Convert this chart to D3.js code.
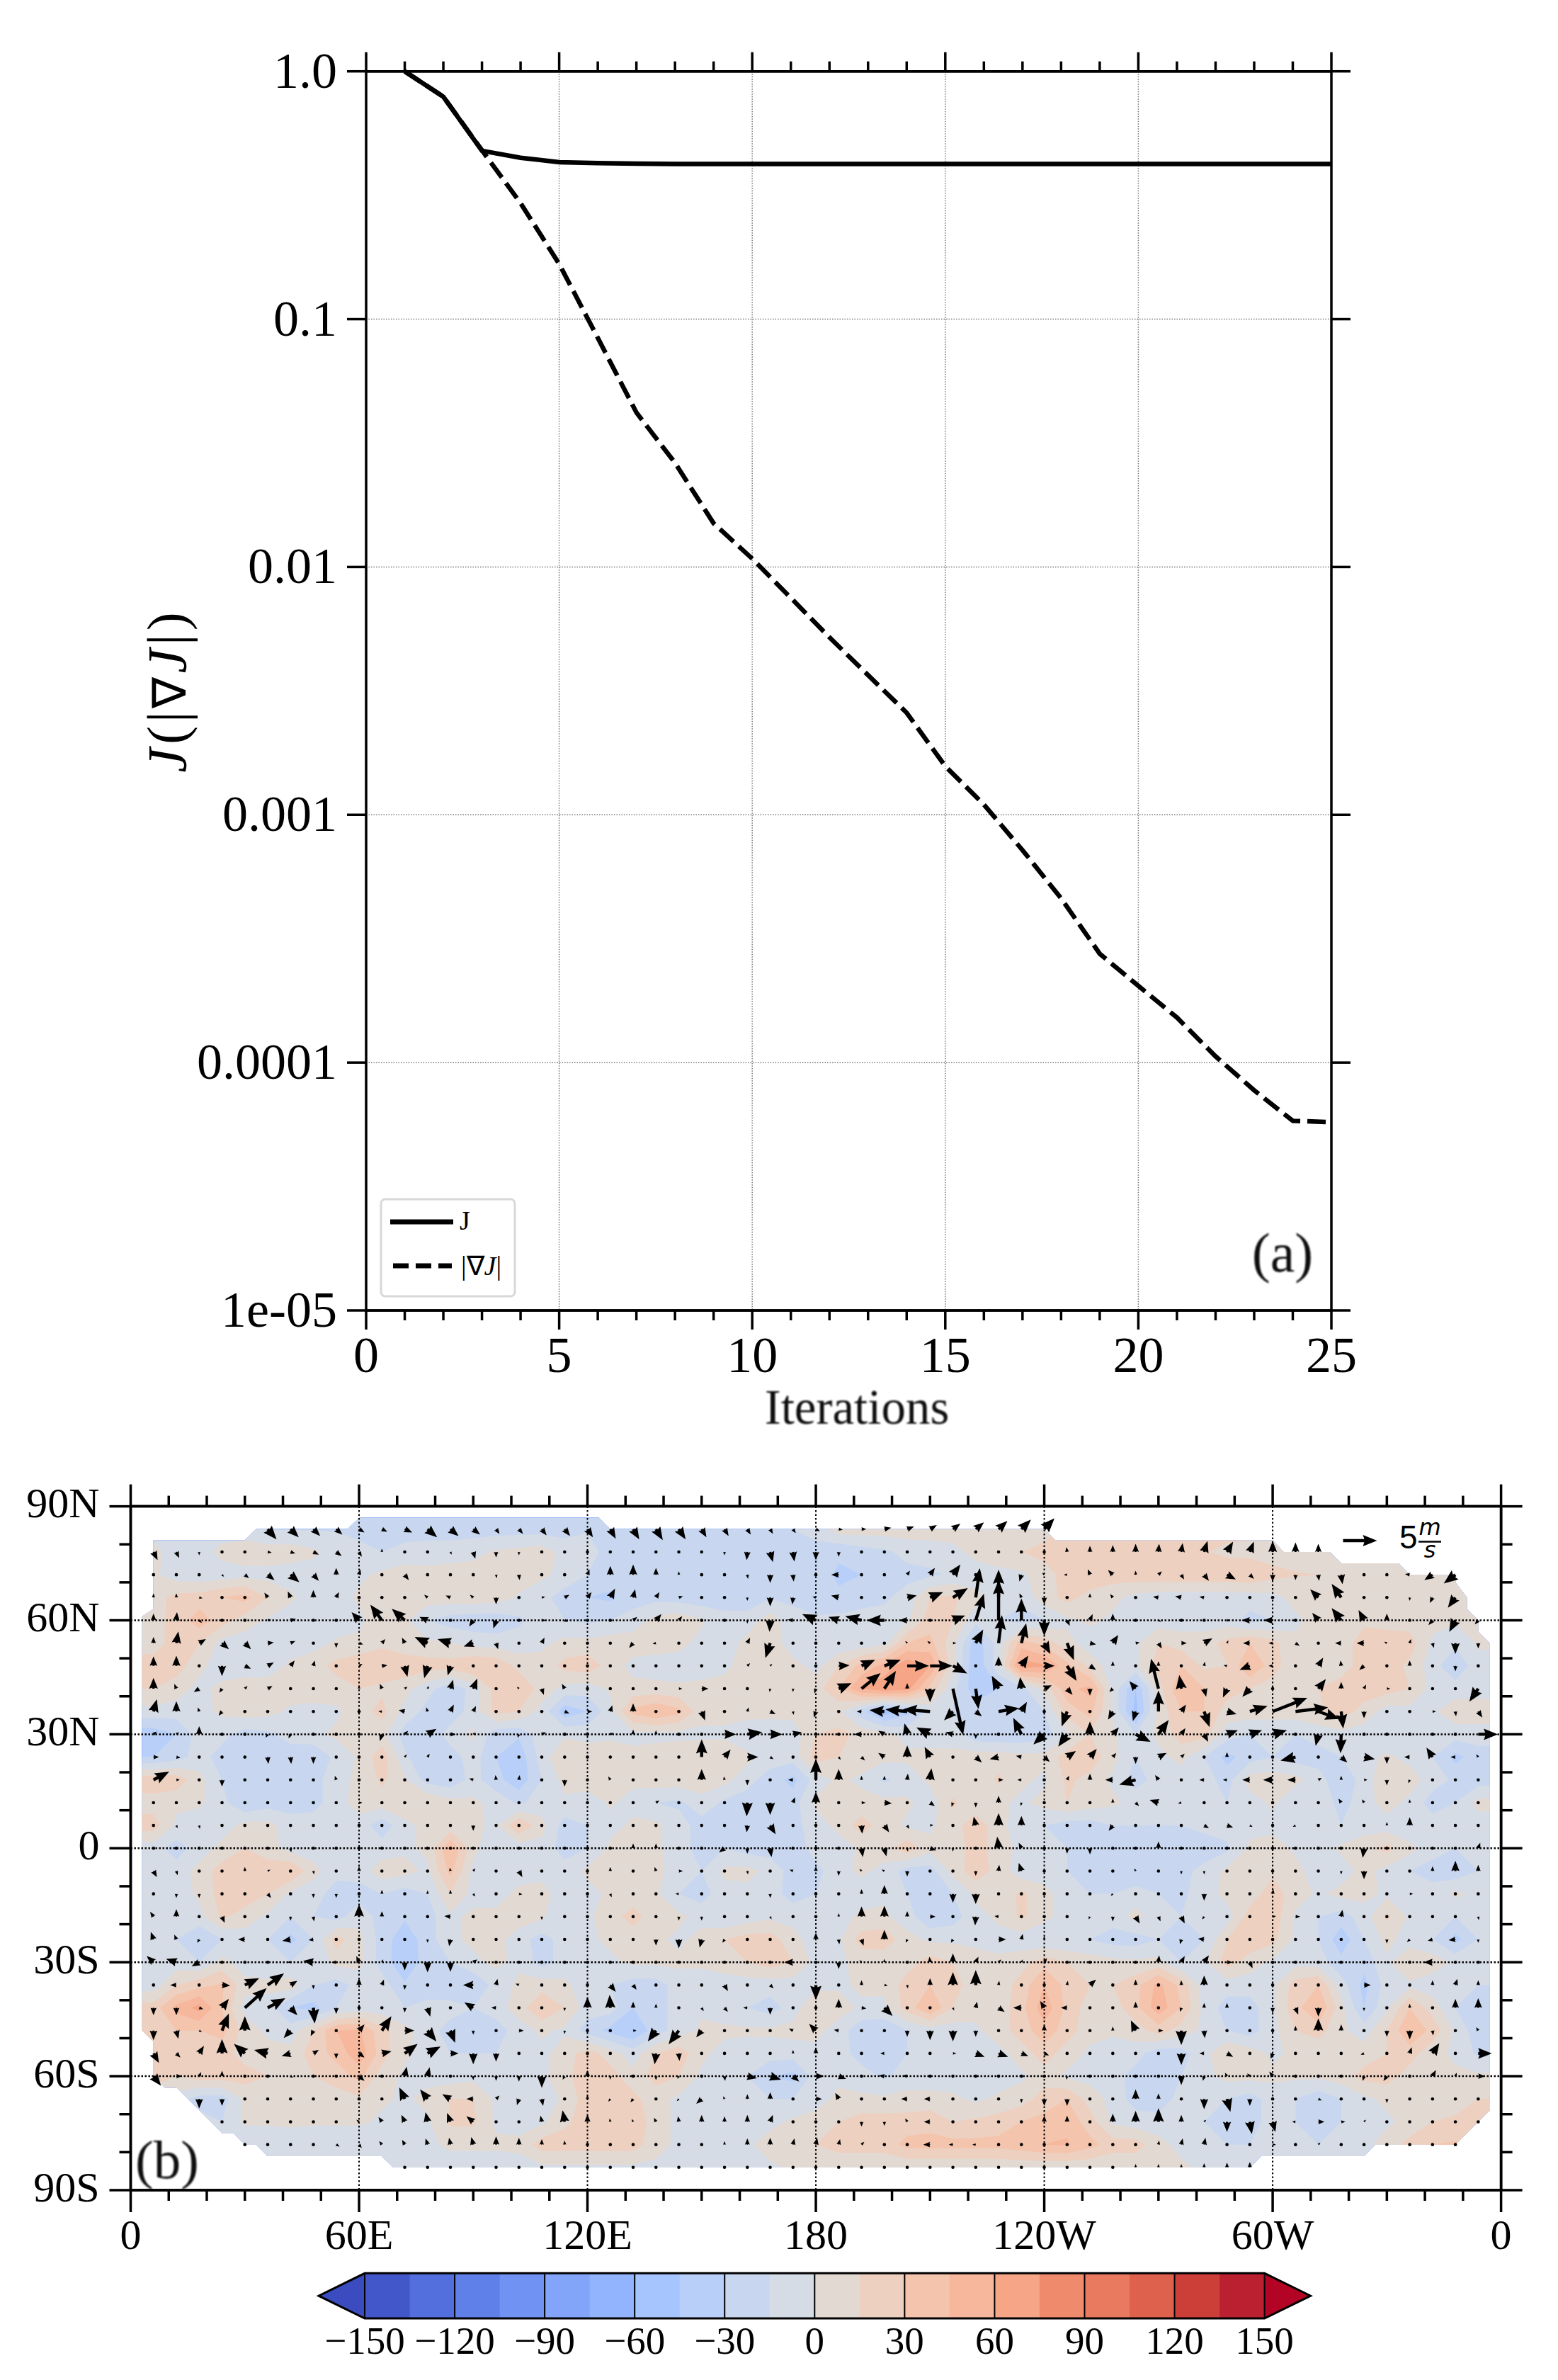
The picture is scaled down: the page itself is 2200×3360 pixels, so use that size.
<!DOCTYPE html>
<html>
<head>
<meta charset="utf-8">
<script src="https://cdn.jsdelivr.net/npm/d3@7"></script>
<style>
	body { margin: 0; background: #fff; }
	text { font-family: 'Liberation Serif', serif; fill: #000; }
</style>
</head>
<body>
<div id="chart"></div>
<script>
// panel (a): convergence curves
const iterations = d3.range(1, 26)
const costValues = [1, .79, .478, .448, .43, .426, .424, .423, .423, .423, .423, .423, .423, .423, .423, .423, .423, .423, .423, .423, .423, .423, .423, .423, .423]
const gradValues = [1, .79, .48, .294, .167, .084, .042, .0263, .015, .0108, .0075, .0052, .00366, .00258, .00157, .0011, .00072, .00046, .000275, .000204, .000152, .000106, .0000773, .0000582, .0000575]
const decadeTicks = [1, .1, .01, .001, .0001, .00001]
const decadeLabels = ['1.0', '0.1', '0.01', '0.001', '0.0001', '1e-05']

// panel (b): 6 degree grid
const lons = d3.range(6, 355, 6)
const lats = d3.range(84, -85, -6)

// scalar field, one row per latitude (59 values, 6E..354E)
const field84 = [-8,-8,-8,-8,-8,-16,-16,-16,-16,-22, -22,-22,-22,-22,-22,-22,-22,-22,-22,-16, -16,-16,-15,-15,-15,-15,-15,-15,-15,-8, 8,8,8,8,8,8,8,8,8,8, 20,20,20,20,20,20,20,20,20,20, 8,8,8,8,8,8,8,8,8]
const field78 = [5,-8,-8,5,8,8,8,3,-8,-8, -15,-10,-8,-8,-5,2,5,8,-5,-10, -20,-18,-18,-22,-25,-25,-22,-18,-20,-22, -28,-22,-18,-10,-8,-5,5,10,15,20, 22,22,20,18,18,18,16,12,10,8, 8,5,5,5,5,5,5,5,5]
const field72 = [3,-8,-10,-8,-5,-5,-8,-8,-8,-3, 3,8,5,8,8,8,8,3,-5,-15, -22,-25,-25,-22,-30,-30,-20,-15,-20,-25, -32,-30,-22,-20,-18,-12,-8,-5,-3,8, 22,25,22,25,25,25,25,25,28,20, 16,15,8,5,5,5,5,5,5]
const field66 = [8,20,22,30,35,15,3,-8,-8,3, 5,5,8,8,10,8,-2,-10,-22,-30, -33,-22,-20,-22,-25,-25,-25,-16,-18,-25, -28,-22,-18,-8,15,18,5,-8,-10,8, 20,10,4,-5,-8,-8,-8,-8,-8,-5, 5,8,8,5,5,5,5,5,5]
const field60 = [10,20,38,22,8,-2,-8,-8,-8,-5, 12,3,-15,-22,-25,-25,-18,-8,-15,-18, -15,-8,5,10,2,-8,-8,8,-10,-12, -10,-8,-8,-3,22,15,-10,-15,-22,-15, -3,3,-3,-8,-8,-8,-8,-8,-20,-15, -3,5,8,12,10,8,5,2,5]
const field54 = [8,22,15,-5,-8,-8,-8,-5,2,5, 12,5,3,0,-5,-8,-8,-3,5,5, 8,8,8,5,-5,-8,5,8,-8,-8, -12,-10,-5,30,35,5,-40,-8,38,25, 5,-8,-10,-3,15,8,8,20,30,20, 3,3,8,22,22,22,-3,-12,2]
const field48 = [22,22,5,-10,-8,-8,3,8,20,25, 25,25,22,22,30,28,10,5,20,25, 8,-5,-8,-8,-8,-5,10,10,5,-5, 15,35,50,72,60,5,-45,-5,68,62, 35,10,-8,-3,22,30,12,15,45,22, 3,3,8,22,22,12,-8,-28,-5]
const field42 = [15,8,-5,5,8,8,8,8,8,15, 12,5,-10,-25,-10,22,30,8,-5,-8, 2,5,5,3,5,8,8,10,5,8, 30,60,72,65,25,-10,-40,-30,-20,5, 40,50,-5,-45,8,45,30,22,15,8, 5,15,22,22,22,15,-5,-8,-8]
const field36 = [-5,-8,-5,3,8,5,-3,-5,-3,8, 20,-5,-20,-25,-8,20,15,-5,-40,-30, -5,35,45,35,5,5,8,5,5,5, 3,-25,-55,-35,-10,-15,-22,-22,-28,-15, 22,35,-3,-50,5,30,30,8,8,8, 8,12,22,10,-8,-5,-3,10,10]
const field30 = [-40,-30,-8,-10,-22,-18,-8,-3,3,5, 5,-22,-28,-8,3,-25,-28,-5,-3,-5, -3,-5,-5,-5,-3,-3,-15,-10,-8,15, 20,10,5,-5,-8,-8,-25,-28,-28,-22, -3,15,3,-15,5,22,22,-8,-15,-15, -15,-8,-5,-8,-15,-10,-8,-8,-8]
const field24 = [-30,-22,-8,-22,-28,-22,-25,-30,-10,2, 25,-12,-30,-22,-8,-30,-40,-8,15,8, 8,5,8,12,10,10,5,-8,-8,22, 15,8,5,3,5,5,8,8,5,5, 22,25,5,-15,-5,5,-15,-35,-22,-15, -22,-22,-15,-5,3,-5,-15,-35,-22]
const field18 = [25,25,5,-15,-30,-30,-22,-22,-5,3, 18,2,-22,-25,-10,-25,-40,-15,5,8, 5,3,8,8,8,5,-10,-22,-35,-8, 3,-3,-18,-8,3,5,3,18,3,-3, 18,10,-3,-22,-8,-8,-8,-22,8,8, 5,-8,-28,-8,12,8,-8,-18,-22]
const field12 = [8,3,3,-10,-30,-22,-22,-22,-5,5, 8,8,15,5,3,-5,-18,-8,-3,-8, 2,-5,-15,-18,-5,-18,-22,-22,-22,3, 5,5,5,3,-8,18,3,3,-3,5, 15,8,3,-5,-8,-8,-8,-15,-8,3, -15,-5,-20,-8,8,-5,-22,-15,5]
const field06 = [22,-3,-12,-8,5,5,-8,-5,-8,-5, -25,-3,3,5,3,-3,30,5,-22,-15, -5,3,3,-8,-22,-28,-22,-15,-20,-8, 5,22,8,-3,-3,8,25,5,-8,-15, -22,-22,-15,-15,-15,-15,-8,-8,-5,-5, -5,-8,-15,-8,-8,-15,-8,-8,-8]
const field00 = [-8,-22,-8,5,15,5,-5,-8,-8,-5, -8,-3,3,45,5,-15,-8,-5,-22,-15, 3,3,3,-8,-22,-15,-22,-22,-25,-8, -8,3,8,25,5,3,25,5,-3,-8, -15,-22,-22,-18,-18,-22,-28,-18,3,8, -3,-8,3,10,20,5,-8,-15,-15]
const fieldS06 = [-15,-8,5,22,22,25,30,5,-10,-8, 8,5,-3,35,-5,-8,-8,-5,-8,3, 3,3,3,-5,-15,3,5,-5,-22,-20, -5,3,-5,-22,-22,5,25,8,-8,-8, -15,-22,-22,-28,-22,-22,-8,3,5,12, 5,-8,-8,5,-5,-15,-22,-25,-15]
const fieldS12 = [-15,-8,3,22,25,15,-3,-8,-22,-22, -15,-22,-15,15,-5,-8,5,5,-8,-5, 3,5,3,-15,-22,-5,-5,-8,-22,-15, -8,-8,-3,-15,-28,-15,3,5,18,5, -8,-15,-15,-8,-15,-18,-8,5,8,22, 8,-3,5,5,-3,-5,-8,3,-3]
const fieldS18 = [-15,-15,-5,18,8,-3,-15,-15,-22,-5, -22,-28,-22,-3,3,5,8,3,-15,-3, 8,22,5,3,-5,-15,-8,-3,-5,-15, -5,3,3,-8,-28,-22,-5,3,18,5, -8,-15,-8,5,-8,-15,-15,-8,22,25, -3,-15,-22,-8,18,-3,-8,-15,-8]
const fieldS24 = [-15,-15,-30,-15,-8,-15,-35,-15,22,5, -22,-40,-22,-3,3,5,-8,-22,-8,-3, 3,5,3,-3,5,15,22,22,5,-8, -3,22,25,5,-3,-3,-5,-5,-8,-15, -15,-15,-22,-22,-15,-30,-15,15,25,20, -3,-15,-40,-15,5,-8,-15,-35,-15]
const fieldS30 = [-15,-8,-15,5,-8,-15,-15,-15,5,5, -22,-42,-22,-15,-3,3,-3,-22,-8,-5, -3,3,3,3,3,8,15,22,15,-5, -3,5,3,8,22,15,8,3,8,25, 15,8,5,3,5,-15,-3,22,8,-3, -5,-8,-25,-25,-3,15,8,-3,-8]
const fieldS36 = [-8,15,25,32,5,5,8,-15,-22,-10, -8,-28,-28,-30,-30,-8,3,8,3,-8, -15,-22,-22,-8,-8,-8,-8,-8,-8,-5, -3,3,3,22,30,22,5,5,22,45, 25,15,15,25,50,25,-8,-8,-8,-3, 22,30,-8,-35,-8,-3,-8,-15,-15]
const fieldS42 = [22,50,65,30,-5,-8,-30,-35,-15,-8, -8,-15,-8,-8,-15,-8,8,30,15,-8, -8,-30,-22,-8,-3,-8,-15,-22,-8,15, 8,-3,-3,22,45,15,5,5,25,55, 25,8,8,25,55,30,-5,-22,-22,-3, 25,45,5,-30,-3,30,8,-15,-22]
const fieldS48 = [22,30,30,35,8,-3,-8,15,45,48, 20,5,-8,-22,-22,-22,-8,3,-3,-22, -35,-45,-22,-8,3,3,3,3,5,5, -8,-25,-28,-15,-8,-8,-3,8,22,40, 22,5,3,8,22,8,-3,-15,-22,-5, 15,22,3,-8,15,45,25,-3,-25]
const fieldS54 = [15,15,15,22,8,5,5,22,35,55, 22,3,-8,-15,-15,-15,-8,-5,8,22, 8,-8,15,25,3,-5,-8,-8,-8,-5, -8,-22,-28,-15,-8,-8,-8,-5,8,22, 8,-3,-8,-8,-25,-22,-5,15,8,-3, 3,3,3,8,15,22,5,-3,-18]
const fieldS60 = [22,15,22,22,22,15,8,15,22,35, 8,-3,-5,-8,-5,-3,-3,-3,8,30, 22,5,22,15,-3,-8,-15,-30,-35,-8, -3,-8,-18,-8,-8,-8,-12,-8,-3,8, -3,-5,-8,-22,-28,-15,-5,5,5,3, 3,3,8,20,22,8,3,3,3]
const fieldS66 = [5,-8,-22,-22,3,8,8,8,8,12, 3,-3,5,15,15,-3,-8,-15,5,22, 25,20,5,-3,-5,-8,-8,-15,-15,-5, 3,3,3,5,5,3,-3,3,8,22, 30,8,-5,-22,-25,-8,-8,-15,-22,-8, -15,-25,-15,-3,3,3,3,8,15]
const fieldS72 = [3,3,-8,-15,3,3,5,3,3,3, -3,-8,-3,18,18,-3,-8,-3,12,22, 22,30,5,-3,-5,-5,-5,-5,3,5, 15,22,22,22,25,15,18,22,30,35, 40,22,-3,-8,-8,-8,-15,-18,-18,-12, -15,-30,-15,-8,-3,5,15,18,22]
const fieldS78 = [-8,-8,-8,-15,-15,-15,-15,-15,-15,-15, -8,-5,-3,3,3,3,5,22,22,22, 22,22,5,-3,-3,-3,-3,8,8,15, 22,22,22,35,35,35,35,35,40,45, 47,35,22,22,5,-5,-3,-15,-15,-15, -15,-15,-10,-5,8,20,30,32,32]
const fieldS84 = [-15,-15,-15,-15,-15,-15,-15,-15,-15,-15, -15,-15,-12,-8,-8,-8,-8,-3,-3,-3, -3,-3,-3,-3,-3,-3,-3,-3,3,3, 3,3,3,3,3,3,3,3,3,3, 3,3,3,3,3,3,-3,-15,-15,-15, -15,-15,-15,-15,-15,-15,-15,-15,-15]
const fieldRows = [field84, field78, field72, field66, field60, field54, field48, field42, field36, field30, field24, field18, field12, field06, field00, fieldS06, fieldS12, fieldS18, fieldS24, fieldS30, fieldS36, fieldS42, fieldS48, fieldS54, fieldS60, fieldS66, fieldS72, fieldS78, fieldS84]

// outline of the shaded area as [lon, lat]
const fieldOutline = [[6,81],[30,81],[33,84],[57,84],[60,87],[123,87],[126,84],[240,84],[243,81],[300,81],[303,78],[315,78],[318,75],[333,75],[336,72],[348,72],[348,70],[351,66],[351,63],[354,60],[354,57],[357,54],[357,-69],[348,-78],[327,-78],[324,-81],[297,-81],[294,-84],[69,-84],[66,-81],[36,-81],[33,-78],[30,-78],[27,-75],[24,-75],[12,-63],[9,-63],[6,-60],[6,-51],[3,-48],[3,61],[6,63]]

// first and last grid column with a wind vector, per latitude row
const windFirst = [5,0,0,0,0,0,0,0,0,0,0,0,0,0,0,0,0,0,0,0,0,0,0,0,0,2,3,4,11]
const windLast = [39,51,57,57,58,58,58,58,58,58,58,58,58,58,58,58,58,58,58,58,58,58,58,58,58,58,58,57,48]

// wind vectors in m/s as [column, u, v]; grid points not listed are calm
const wind84 = [[5,1.3,-1.5],[6,1.2,-1.2],[7,1,-1],[8,.9,-.8],[9,.8,-.5],[10,.8,-.4],[11,1.1,-.5],[12,1.4,-1.2],[13,1.2,-1],[14,1,-.8],[15,.5,-.7],[16,.6,-.7],[17,.7,-.9],[18,.8,-1],[19,.8,-1.2],[20,.8,-1.4],[21,.9,-1.5],[22,1,-1.6],[23,1,-1.5],[24,.7,-1.2],[25,.6,-1],[26,.5,-.8],[27,.4,-.7],[28,.4,-.6],[29,.6,-.3],[30,.6,-.1],[31,.7,0],[32,1,.2],[33,1,.4],[34,1,.6],[35,1.1,.8],[36,1.2,1],[37,1.3,1.2],[38,1.4,1.4],[39,1.5,1.6]]
const wind78 = [[0,.6,-1.2],[1,.4,-.9],[2,0,-.5],[3,.3,.2],[4,.3,0],[5,.6,-.1],[6,.7,-.2],[7,.8,-.4],[8,.8,-.6],[9,.4,-.7],[10,0,.5],[13,.2,-.4],[14,.3,-1],[15,0,-.8],[16,0,-.5],[25,0,-.5],[26,-.1,-1.2],[27,.4,-1.5],[28,.2,-1.4],[29,0,-1.2],[30,0,-.7],[31,.1,-.4],[32,.2,-.3],[40,-.1,.7],[41,0,.9],[42,0,1],[43,0,1.2],[44,.1,1.2],[45,.2,1.3],[46,.5,1.6],[47,.9,1.5],[48,.6,1.5],[49,0,1.6],[50,0,1.4],[51,0,1.2]]
const wind72 = [[3,.3,-.3],[4,.6,-.5],[5,1,-.8],[6,1.3,-1.1],[7,.8,-.9],[8,0,1],[9,.2,.8],[10,.3,-.2],[11,.6,-.8],[12,.4,-.1],[14,0,-.4],[15,.1,-.5],[16,.1,-.8],[17,.1,-.3],[19,.3,.8],[20,0,1.3],[21,0,1.5],[22,0,1],[23,0,.5],[26,.1,-.6],[27,0,-1.2],[28,.1,-1],[30,-1.1,0],[33,.4,.6],[34,.7,1],[35,1.1,1.5],[38,-.3,-1],[39,-.3,.3],[40,-.5,0],[41,-.3,.8],[42,-.7,.7],[43,0,.6],[44,.5,.5],[45,.4,-.7],[46,.7,-.9],[47,1.3,-.7],[48,.6,-.6],[49,0,-1],[50,0,-.8],[51,.1,-.9],[52,.2,-1.4],[53,0,-.4],[54,.1,-.3],[55,-.7,.1],[56,-1.2,-.8],[57,-1.7,-1.3]]
const wind66 = [[0,0,.6],[1,0,.6],[2,.5,-.1],[4,.3,-.2],[5,-.5,.7],[6,-.4,.9],[7,0,1.1],[8,.4,.8],[9,0,.4],[10,-.1,.3],[12,-.5,.4],[13,-.7,.3],[14,-.5,.4],[15,0,-1],[17,.5,.1],[18,.7,.4],[19,.6,.8],[20,.7,1.3],[21,.3,1.2],[22,.5,.8],[23,.6,.2],[24,.3,-.2],[26,0,-.5],[27,0,-1.3],[28,-.1,-1],[29,-.5,.1],[30,-1.1,.3],[33,1.4,.3],[34,1.9,.8],[35,2.2,1.4],[36,.6,4.3],[37,0,4.1],[38,-.3,.6],[39,0,-1],[41,0,.6],[42,-.4,.5],[43,-.4,.1],[44,-.8,.1],[45,-.9,.2],[46,-.7,.1],[51,-1.2,1.2],[52,-1.4,2],[53,0,.3],[54,-.1,.3],[55,0,-.5],[56,-.4,-.8],[57,-1.1,-1.5]]
const wind60 = [[0,0,1],[1,.1,1.2],[2,.4,-.4],[5,.5,.1],[6,.8,.2],[9,-1.1,1.2],[10,-1.7,2.3],[11,-1.9,1.7],[12,-1.2,.5],[14,-.6,-.9],[15,-.4,-1.2],[17,.6,0],[18,.5,-.2],[20,.4,-.1],[21,.6,.5],[22,.8,.9],[23,.5,.6],[26,0,-.5],[27,-.1,-1.7],[28,-.8,.1],[29,-2,.9],[30,-1.5,.5],[31,-2.4,.6],[32,-2.6,0],[33,-1.2,0],[35,1.8,.7],[36,1.2,3.9],[37,0,5.9],[38,0,3.2],[39,0,-2.3],[40,.4,-.8],[41,.4,.9],[42,0,1],[43,.3,.1],[44,.4,-.2],[45,.3,0],[46,-.2,.3],[47,.5,0],[48,-1.2,0],[49,-1.3,0],[51,-.9,1.1],[52,-1.4,1.8],[53,-.8,1.5],[54,0,1],[56,-.6,-.7],[57,-.9,-1.7],[58,-.5,-.6]]
const wind54 = [[0,0,.9],[1,.3,1.7],[2,1,.6],[3,1,-.9],[4,.9,-.9],[5,.9,.1],[6,.7,.3],[8,0,-.7],[9,.6,-.2],[10,.5,.6],[11,-.4,.8],[12,-1.9,.9],[13,-1.9,.6],[14,-1.4,-.5],[15,.3,-.9],[17,.4,.8],[18,.2,.3],[20,-.2,.1],[21,-.6,-.7],[22,-.5,-.1],[23,.1,.2],[24,-.1,.2],[25,.1,.1],[26,.4,.8],[27,-.7,-2.2],[32,-.1,.3],[33,-.3,.3],[34,-.4,.3],[35,.5,0],[36,1.1,2],[37,.5,4.1],[38,.7,2.9],[39,.9,-1.6],[40,1,-2.5],[41,.9,-.2],[42,.8,1.2],[43,.6,.1],[44,.5,-.8],[45,.8,0],[46,1.2,.7],[47,.2,.4],[48,-1,0],[49,-.6,0],[50,.6,-.4],[52,-.9,0],[53,-1.1,0],[54,-.4,.2],[55,.2,.6],[56,.2,-.7],[57,0,-1.6],[58,0,-.8]]
const wind48 = [[0,0,1.4],[1,0,1.5],[3,0,-1.5],[4,.9,-.4],[5,.9,.5],[6,.6,.8],[7,.2,.8],[9,.5,.3],[10,.8,.1],[11,.4,-1.6],[12,-.5,-1.8],[13,-.4,-1.4],[14,.3,0],[16,.1,.2],[17,.4,-.1],[18,.2,-.1],[20,0,.4],[25,-.3,.1],[26,.4,.4],[27,.3,.3],[30,1.6,.1],[31,2,.9],[32,2.4,.9],[33,3.2,0],[34,3.3,0],[35,2.1,-1.1],[37,0,1.4],[38,1,1.5],[39,1.5,0],[40,1.4,-2.2],[41,.9,-.6],[42,0,.7],[44,0,.7],[45,0,.4],[46,.1,.6],[47,-.5,.1],[48,-1.5,-.6],[49,-.6,0],[51,.7,1.2],[52,-.1,.8],[53,-.7,-.6],[55,0,.8],[57,0,-.8]]
const wind42 = [[0,0,1.6],[1,-.3,.7],[2,-.8,-.5],[3,-.4,-.6],[4,.4,.4],[5,.7,.4],[9,0,.5],[10,-.3,.7],[11,.4,.3],[12,.2,.4],[13,.4,1.3],[14,.6,1.5],[16,-.3,.3],[17,.3,-.9],[18,-.4,.7],[23,.5,0],[24,1,0],[26,-.1,-.4],[27,-.1,-.5],[28,0,-.5],[29,-.2,-.7],[30,1.9,.8],[31,2.8,2.3],[32,1.7,2.6],[33,0,.8],[34,0,-2],[35,1.5,-6.8],[36,.4,-3],[37,-1,1.9],[38,-.2,1.7],[39,1.1,.5],[40,.8,-.9],[41,0,-1],[42,-.5,-.5],[43,-.9,1.1],[44,-1.1,4.4],[45,-.3,2],[46,.3,-1.2],[47,-.6,-1.3],[48,-1.1,-1.2],[50,.2,0],[51,1.1,1.4],[52,0,1],[53,.3,.6],[54,.5,0],[58,-1.3,-1.9]]
const wind36 = [[0,.5,1.8],[1,0,1.5],[2,-.2,.6],[3,-.5,-.6],[9,.1,.3],[10,-.5,0],[11,-.9,.2],[12,-.2,.6],[13,.5,1],[14,.4,.8],[18,.7,-.3],[19,.7,0],[20,.3,.9],[21,0,1.2],[22,.3,-.2],[24,.5,-1.3],[25,-.2,-.3],[26,.2,.6],[27,.8,-.4],[28,.1,-.5],[29,-.3,-.9],[31,-.7,0],[32,-2.2,.2],[33,-3.2,.3],[34,-4,.3],[35,-1.3,-1.3],[36,.9,-.7],[37,3,.5],[38,.8,1.4],[39,-.1,.3],[40,-.8,-2.2],[42,-.7,-1.2],[43,-.4,-1.4],[44,0,3.1],[45,.7,1],[46,.8,-2.3],[47,1.4,-.4],[48,2.6,.8],[49,5.1,2],[50,4.8,.6],[51,3.1,-1.1],[52,.3,-2.5],[53,0,-1],[56,.5,0],[57,.1,-.7],[58,.6,-.9]]
const wind30 = [[0,.5,.4],[1,.4,.3],[2,0,1.2],[4,0,-.3],[5,-.3,-.5],[6,-.3,-.6],[8,-.2,0],[9,-.2,-.3],[10,-.3,-1],[11,.5,.5],[12,1.3,.8],[13,.8,0],[14,.4,.2],[16,-.2,-.5],[17,.6,.3],[20,.5,.2],[21,0,.7],[22,0,.6],[25,1.7,0],[26,2.2,.3],[27,1.8,0],[28,1.3,.3],[31,-1.1,0],[32,-.9,.5],[33,-.4,1.6],[34,-2,1],[35,-1.1,.3],[36,0,-.7],[37,0,.3],[38,-1.2,2.4],[39,-1.6,-1.5],[40,-1.3,-1.8],[41,0,1.9],[42,.9,1],[43,2.2,-1.1],[44,1.5,2.1],[45,.6,.9],[46,.6,-1.1],[47,1.6,.6],[48,1.8,.6],[49,2.1,.6],[51,-.4,-1.7],[52,-.1,-2.8],[55,-.2,0],[56,0,.2],[58,2.9,0]]
const wind24 = [[0,.8,0],[1,.6,-.1],[2,-.1,.3],[5,.1,-1],[6,.1,-1],[7,0,-1],[11,.3,.4],[12,.3,.5],[21,-.1,.3],[23,0,.4],[24,0,2.6],[25,.9,1.1],[26,1.6,0],[27,.5,-.3],[30,.3,-.4],[31,.5,-.5],[32,-.9,.6],[33,0,1.7],[34,-.8,1.5],[36,.9,-.8],[37,-1.3,-.3],[38,-.8,.2],[39,.8,-.7],[40,1.3,.9],[41,1,1.2],[42,.5,.6],[43,0,-1],[44,1.2,.6],[45,.5,.5],[47,0,.7],[50,-2.2,-.5],[52,.9,-.8],[53,1.6,-.3],[54,0,-1],[55,-.8,0],[56,-.9,1.4],[57,-.7,0],[58,-.3,.4]]
const wind18 = [[0,2.3,1.2],[1,.5,0],[2,-.2,.1],[3,0,-1],[8,-.2,.6],[9,-.1,.2],[11,0,-.3],[12,.1,-.3],[14,-.6,.2],[15,-.1,.7],[16,.1,.7],[18,0,-1],[19,.1,.3],[20,-.3,.5],[24,0,1.6],[25,-.1,.5],[26,0,-.8],[28,-.7,0],[29,0,3.1],[30,0,1.6],[31,0,.6],[32,0,.6],[33,.1,.9],[34,.2,1.7],[35,0,.2],[36,.4,0],[37,.7,0],[38,-.6,0],[40,.3,.6],[41,0,.9],[42,-1.1,0],[43,-2.4,-.7],[44,-.5,.7],[46,-.7,0],[47,-.6,0],[48,-1.1,0],[49,-1.4,0],[50,-1.2,0],[51,.5,.3],[52,0,.6],[53,.5,0],[54,0,-.8],[55,-.2,-.5],[57,0,.2],[58,-.1,.3]]
const wind12 = [[8,.3,.2],[9,.5,0],[21,.3,.2],[22,.5,.3],[23,0,.3],[24,0,.3],[25,0,.2],[26,-.1,-2],[27,0,-1.8],[28,.3,.8],[29,0,1.6],[30,-.4,0],[31,.6,0],[32,1.1,-.1],[34,.7,-.5],[35,-.2,-.6],[36,0,-.7],[37,0,1],[38,-.1,-.5],[42,0,.6],[43,.5,-.5],[44,-1.3,.4],[45,-.5,-.1],[51,.3,.2],[52,-.4,.6],[53,-.3,.5],[55,0,.5]]
const wind06 = [[0,.1,-.4],[1,.2,-.4],[2,.1,-.5],[4,0,.4],[5,0,.3],[10,.3,-.2],[14,0,-.8],[21,0,.2],[24,-.1,.3],[26,-.1,-1],[27,.8,-1.3],[30,0,-.3],[31,.1,-1.2],[32,.7,-1],[33,.3,-.5],[34,.5,.1],[35,-.3,-.1],[36,-.3,1.3],[37,0,1.8],[38,0,1.4],[40,0,.2],[42,-.6,-.8],[43,-.3,0],[46,.7,-.4],[47,.9,-.3],[48,.4,-.2],[50,-.4,-.2],[54,0,.5],[55,0,1.2]]
const wind00 = [[2,-.1,.3],[4,0,.3],[6,.1,-.6],[21,0,.7],[22,0,.7],[25,-.8,-.6],[26,0,-.8],[27,.2,-1.3],[30,.1,-.3],[31,.2,-1.3],[32,.3,-1.2],[33,.1,-.5],[34,.9,-.3],[35,0,-.5],[37,-.2,1.7],[38,-.4,.8],[39,-.3,0],[40,0,-.8],[41,0,-.9],[44,0,1],[53,-.2,-1.4],[55,0,.2],[56,.2,.1],[57,0,.4],[58,.3,.8]]
const windS06 = [[0,.5,-.9],[1,.2,-.6],[3,0,.2],[4,0,.6],[5,.4,.2],[6,-.3,.2],[7,.1,-.5],[9,0,.7],[13,-.1,.5],[14,.3,.4],[15,.4,0],[16,.5,-.9],[17,-.2,.3],[18,0,.2],[20,0,.6],[21,0,.4],[22,-.2,.6],[23,.6,0],[24,-.4,0],[26,.1,-.5],[28,-.5,.2],[29,0,.7],[30,0,-.7],[31,-.3,.3],[32,-.4,.2],[33,0,-.8],[34,-.2,.2],[36,0,-.7],[37,.1,.9],[38,-.4,1.2],[39,-.2,0],[40,0,-.4],[42,.2,.2],[43,-.2,.4],[44,.1,.3],[45,0,-.5],[46,0,-.5],[47,-.3,.1],[50,.1,-.3],[52,0,-.5],[53,0,-1.2],[55,.3,.1],[56,0,.7],[57,0,1.5],[58,0,.9]]
const windS12 = [[0,-.1,-.4],[1,0,-.6],[2,0,-.6],[3,-.1,-.4],[5,.5,-.6],[6,.3,-.2],[7,0,-.6],[8,0,-.6],[10,0,.6],[12,0,.5],[13,0,.6],[14,.3,-.4],[16,.5,-.1],[17,.2,-.3],[19,0,.3],[20,.2,-.5],[21,.1,-.3],[22,.1,-.3],[23,-.5,0],[24,-.4,0],[27,0,-.6],[28,-.4,0],[31,0,.7],[32,0,1.3],[34,.1,-.3],[35,0,-1.3],[36,0,-1.5],[37,0,-.3],[38,0,.4],[39,.1,-.4],[40,-.3,0],[41,-.2,-.3],[42,-.3,-.3],[43,0,-.3],[44,-.4,.1],[45,-.3,-.2],[46,0,-1],[49,.1,.7],[50,-.2,-.3],[51,0,.4],[55,.5,0]]
const windS18 = [[0,-.5,.7],[1,0,1.1],[2,.2,0],[3,.4,-.9],[5,-.2,0],[6,0,-.6],[7,.1,-.7],[8,.1,.1],[9,0,1.8],[10,0,.8],[13,-.9,.1],[17,0,-.5],[18,0,-.3],[22,-.4,0],[23,0,-.6],[24,0,-.6],[25,-.1,.3],[26,-.4,.1],[27,.2,-.4],[29,-.4,0],[30,0,.5],[31,0,1.5],[32,0,1.6],[33,0,.8],[34,.8,0],[36,-.1,-1.3],[37,-.6,.1],[38,0,.4],[39,0,.3],[40,-.3,0],[41,-.2,-.4],[42,0,-.7],[43,.6,-1],[44,.3,-.7],[45,.5,-1],[46,-.3,-.4],[48,0,.4],[49,.5,.1],[50,.7,0],[51,0,.3],[52,.2,1],[56,-.3,-.2],[57,.3,.2],[58,.1,-.5]]
const windS24 = [[0,-.4,1.1],[1,-.3,.7],[2,-.3,-.5],[3,-.4,0],[4,-1,0],[5,-.4,-.1],[6,-1.2,-.2],[7,-.7,-.1],[12,0,-.5],[13,-.2,-1],[22,0,-.9],[23,0,-1.3],[24,-.3,-1.2],[25,-.3,-.5],[29,0,1],[30,.1,-.7],[31,.3,-.9],[32,0,1.4],[33,-.2,-.5],[35,-.3,-.5],[37,1.1,0],[38,.2,.8],[39,0,.5],[44,.3,-.2],[45,-.2,-.7],[46,-.9,.1],[54,0,-.6],[55,-.4,-.4],[56,-.7,-.2],[57,-1,-.1],[58,0,-.5]]
const windS30 = [[0,-1,.9],[1,-1.5,.5],[2,-1.1,-.6],[3,-.3,0],[6,-.5,0],[7,-1.5,.2],[8,-.7,0],[9,-.4,.9],[10,.2,.4],[11,0,-1.2],[12,0,-1.5],[13,0,-1.4],[14,.6,.4],[28,-1.3,0],[30,0,-1],[31,-.3,.3],[32,0,.5],[34,-.1,.8],[35,0,1.3],[36,.4,.8],[37,.4,.4],[38,.2,.4],[39,.4,.6],[44,.1,1],[45,.5,.9],[46,.7,1],[47,.8,0],[48,.4,-.9],[52,-.3,0],[54,.5,0],[56,-1.3,0],[58,.2,.1]]
const windS36 = [[0,-.2,.1],[1,-.9,0],[3,1.2,-.1],[4,2.1,1],[5,2.4,1.7],[6,1,.6],[7,0,-.6],[8,-.2,.1],[9,0,1],[10,.3,.8],[11,0,-.7],[12,.1,.2],[13,0,-.4],[14,-1.5,0],[15,.2,.9],[16,-.5,.2],[18,-.4,0],[19,0,-.4],[20,.8,-1],[21,.5,-.7],[23,0,-.3],[24,0,-.4],[25,.5,-.9],[27,.5,-.5],[29,0,-2.2],[30,0,-.4],[31,0,.7],[32,.5,-.1],[33,.1,-.5],[34,0,1],[35,0,1.9],[36,0,2.2],[37,.1,.6],[39,0,.4],[40,.1,.6],[41,.9,.8],[43,0,.8],[44,0,.3],[45,0,.7],[46,0,1.4],[50,-.2,.2],[51,0,.3],[53,1,0],[56,0,.7],[57,.3,.9],[58,0,.7]]
const windS42 = [[0,0,-1.1],[1,0,-1.1],[2,.6,-.2],[3,1,1.3],[4,3.2,2.9],[5,2.6,1.4],[6,1,-1.1],[7,.2,-2.3],[8,0,-.9],[11,0,-.7],[12,.4,-1.3],[14,-1.3,.8],[15,-.7,0],[16,-.2,-.3],[18,0,-.5],[19,0,1.6],[20,-.1,1.9],[21,0,.9],[22,0,.6],[24,.3,-.5],[25,.5,-.6],[26,-.6,0],[27,0,-1],[30,0,1.3],[31,.7,-.1],[32,1.2,-1.2],[34,.3,0],[35,.2,-.4],[36,.2,.9],[37,.9,-.6],[38,-1.2,0],[39,-.6,1],[40,-.9,0],[41,0,.3],[43,0,.9],[44,-.3,-.2],[45,-.2,-.6],[46,0,.7],[47,0,.7],[48,0,.4],[49,0,-.8],[50,.4,-1],[51,0,-1.3],[53,0,-.5],[55,0,.6],[57,0,1.3],[58,0,1.4]]
const windS48 = [[0,0,-1.4],[1,.3,-1.2],[2,.4,-.2],[3,1,2.5],[4,0,2.1],[5,-.2,0],[6,-1,-1.1],[7,-.4,-.8],[9,.8,.9],[10,1.4,2.1],[11,1.4,0],[12,1.3,-1.6],[13,.7,-1.8],[14,0,-.6],[15,.2,.1],[16,.7,0],[18,0,-.5],[20,-.3,0],[21,.5,0],[22,-1.2,-1.6],[23,-1.5,-2],[24,-.8,-1],[28,-.6,.3],[29,-1,1],[30,-.7,.1],[31,0,-.3],[32,0,-.4],[33,0,-.9],[34,0,-1.4],[35,0,-1.6],[36,0,-.9],[38,0,-.3],[39,0,.9],[40,0,-.3],[41,-.3,0],[42,0,.6],[43,-.7,1.5],[44,.7,0],[45,0,-2.1],[46,.1,-1.1],[49,-.2,.1],[50,0,.7],[51,0,1.8],[52,0,.9],[54,0,-.9],[55,0,-1.3],[56,.1,-.7],[58,-.3,.5]]
const windS54 = [[0,.8,-1.4],[1,.6,-.6],[2,.7,1.1],[3,0,2.1],[4,-1.6,1.4],[5,-2,.5],[6,-1.3,-.4],[7,.8,.5],[8,0,-.8],[9,.8,-.6],[10,1.4,.3],[11,1.9,1.4],[12,1.9,1],[13,1.2,0],[14,0,-1.6],[15,0,-1.2],[16,0,-.4],[18,0,-.4],[20,-.2,.1],[22,-.2,-1.6],[23,.1,-1.1],[28,0,.5],[29,0,.9],[32,-.6,0],[33,-.1,-.4],[34,.4,0],[35,.5,0],[36,1.3,-.5],[37,1.4,-.5],[38,1,-.4],[39,.7,-.3],[40,.2,0],[41,0,.3],[45,0,-1.7],[46,-.7,0],[47,.9,-.5],[49,-.3,-.8],[50,.1,-.3],[51,0,.4],[53,-.5,-.2],[54,0,-.2],[55,.3,.9],[56,1,1.5],[58,2,0]]
const windS60 = [[0,1.1,-1.4],[1,.8,0],[2,.3,.6],[3,0,.8],[4,0,.3],[5,.4,0],[6,.4,-.2],[7,.3,0],[9,.8,-.7],[11,.3,1.4],[12,.3,1.3],[14,0,-.6],[15,0,-.7],[16,0,-.8],[17,0,-1.7],[18,-.3,-.5],[19,0,.9],[20,0,-.5],[22,0,-.6],[23,-.2,-.4],[25,.1,-.7],[26,1.4,-.3],[27,1.6,-.5],[28,.9,-.8],[29,1.2,0],[30,1.1,-.4],[32,-.8,.1],[33,-.7,.1],[35,-.2,.3],[38,-.2,-.1],[39,-.2,0],[40,-.1,-.5],[45,0,-1.3],[46,-.2,-.7],[47,-.3,.5],[48,-.4,.4],[49,-.5,.7],[53,-.2,-.7],[54,-.5,-.7],[56,.5,.9],[57,.2,.5],[58,1,0]]
const windS66 = [[2,0,-1.4],[3,0,-1],[8,0,.3],[10,-.1,.3],[11,-.8,1.7],[12,-1.1,1.4],[13,-1.2,.7],[14,-1,0],[15,.5,.5],[16,-.3,-.9],[17,.2,-1],[19,0,.6],[20,-.3,-.4],[21,-.4,-.5],[22,-.2,-.3],[23,-.3,-.3],[24,-.8,-.7],[25,-.2,.4],[26,0,.7],[27,0,1],[28,-.2,.3],[29,.9,0],[30,-.5,.9],[31,-.1,-.3],[32,-.4,0],[33,-.9,0],[34,-.9,0],[38,0,-.6],[39,0,-1],[40,0,-1],[42,0,.3],[43,0,1.4],[44,0,.8],[46,0,-1.5],[47,.5,-1.9],[48,0,-1],[51,.5,-.2],[52,.2,-.3],[54,0,-.6],[55,.3,0],[56,.3,0],[57,0,.3]]
const windS72 = [[4,.4,.1],[9,-.4,.3],[10,-.5,.7],[11,-.5,1],[12,-.3,1.4],[13,-.5,1.3],[14,-1,.8],[16,-.2,.2],[17,-.2,.9],[18,-.3,1.7],[19,0,1.1],[20,-.1,.5],[21,-.2,.4],[22,-.3,.6],[23,-.1,.8],[24,0,1],[25,0,.8],[26,0,1],[27,.4,1],[30,-.1,.3],[31,0,-.7],[32,0,-.6],[33,-.3,.5],[34,-.9,0],[35,-.2,0],[37,0,.3],[38,-.1,.3],[39,0,.9],[40,0,.9],[42,0,1.2],[43,0,1.6],[44,0,2],[45,0,1],[46,.3,.3],[47,0,-1.5],[48,.3,-1.8],[49,.4,-1.5],[50,-.5,0],[51,.9,0],[52,.6,0],[53,.3,.3],[54,0,.3]]
const windS78 = [[7,.3,.1],[8,.5,-.3],[9,.4,-.5],[10,-.4,.5],[11,-.4,.7],[12,-.3,.9],[13,-.2,1],[14,-.3,1.1],[15,0,1.2],[16,0,1],[17,0,.8],[18,0,.6],[22,0,.3],[23,0,.3],[24,0,.4],[25,0,.5],[26,0,.9],[27,0,1],[28,.2,.9],[29,.2,1],[30,.2,.8],[31,.4,.4],[32,.3,.1],[33,-.4,0],[34,-1,0],[35,-.6,0],[36,-.5,0],[37,-.4,0],[38,-.4,0],[41,0,-.4],[42,.3,0],[43,0,.3],[44,.1,.6],[45,.2,.9],[46,.2,1],[47,0,.2],[49,.5,0],[50,.3,.2],[51,.3,.3]]
const windS84 = [[41,0,.3],[42,0,.4],[43,0,.5],[44,0,.5],[45,0,.5],[46,0,.6],[47,0,.7],[48,0,.8]]
const windRows = [wind84, wind78, wind72, wind66, wind60, wind54, wind48, wind42, wind36, wind30, wind24, wind18, wind12, wind06, wind00, windS06, windS12, windS18, windS24, windS30, windS36, windS42, windS48, windS54, windS60, windS66, windS72, windS78, windS84]

const lonTicks = [0, 60, 120, 180, 240, 300, 360]
const lonLabels = ['0', '60E', '120E', '180', '120W', '60W', '0']
const latTicks = [90, 60, 30, 0, -30, -60, -90]
const latLabels = ['90N', '60N', '30N', '0', '30S', '60S', '90S']

// colour bar
const barLevels = d3.range(-150, 151, 15)
const barTicks = d3.range(-150, 151, 30)
const barColors = ['#4257c9', '#536edd', '#5f80e8', '#6f92f3', '#82a5fa', '#92b4fe', '#a6c4fe', '#b8d0f9', '#c8d7ef', '#d6dce5', '#e3d9d3', '#edd0c0', '#f5c4ad', '#f6b79c', '#f6a586', '#f08a6c', '#e97a5f', '#de614d', '#cb3f38', '#bb2030']
const underColor = '#3b4cc0'
const overColor = '#b40426'

var width = 2200
var height = 3360

var svg = d3.select('#chart')
	.append('svg')
	.attr('width', width)
	.attr('height', height)
	.style('display', 'block')

svg.append('defs')
	.append('filter')
	.attr('id', 'soft')
	.append('feGaussianBlur')
	.attr('stdDeviation', .9)

function styleAxis(g, fontSize) {
	g.selectAll('path').attr('stroke', '#000').attr('stroke-width', 3.5)
	g.selectAll('line').attr('stroke', '#000').attr('stroke-width', 3.5)
	g.selectAll('text')
		.style('font-size', fontSize + 'px')
		.attr('fill', '#000')
}

/* ---------- panel (a) ---------- */
var xIter = d3.scaleLinear().domain([0, 25]).range([517, 1880])
var yLog = d3.scaleLog().domain([.00001, 1]).range([1850, 100.7])
var iterMajor = [0, 5, 10, 15, 20, 25]
var iterMinor = d3.range(0, 26).filter(d => d % 5 != 0)

// grid
var gridA = svg.append('g')
	.attr('stroke', '#777')
	.attr('stroke-width', 1.5)
	.attr('stroke-dasharray', '1.5 2')
gridA.selectAll('line.v')
	.data(iterMajor.slice(1, 5))
	.enter().append('line')
	.attr('x1', d => xIter(d)).attr('x2', d => xIter(d))
	.attr('y1', yLog(1)).attr('y2', yLog(.00001))
gridA.selectAll('line.h')
	.data(decadeTicks.slice(1, 5))
	.enter().append('line')
	.attr('x1', xIter(0)).attr('x2', xIter(25))
	.attr('y1', d => yLog(d)).attr('y2', d => yLog(d))

// curves
var curve = d3.line()
	.x((d, i) => xIter(iterations[i]))
	.y(d => yLog(d))
svg.append('path')
	.attr('d', curve(gradValues))
	.attr('fill', 'none')
	.attr('stroke', '#000')
	.attr('stroke-width', 6.5)
	.attr('stroke-dasharray', '26 10')
svg.append('path')
	.attr('d', curve(costValues))
	.attr('fill', 'none')
	.attr('stroke', '#000')
	.attr('stroke-width', 6.5)

// axes
svg.append('g').attr('transform', `translate(0,${yLog(.00001)})`)
	.call(d3.axisBottom(xIter).tickValues(iterMajor).tickSize(27).tickPadding(9).tickSizeOuter(0).offset(0))
	.call(g => styleAxis(g, 72))
svg.append('g').attr('transform', `translate(0,${yLog(.00001)})`)
	.call(d3.axisBottom(xIter).tickValues(iterMinor).tickSize(14).tickFormat('').tickSizeOuter(0).offset(0))
	.call(g => styleAxis(g, 72))
svg.append('g').attr('transform', `translate(0,${yLog(1)})`)
	.call(d3.axisTop(xIter).tickValues(iterMajor).tickSize(27).tickFormat('').tickSizeOuter(0).offset(0))
	.call(g => styleAxis(g, 72))
svg.append('g').attr('transform', `translate(0,${yLog(1)})`)
	.call(d3.axisTop(xIter).tickValues(iterMinor).tickSize(14).tickFormat('').tickSizeOuter(0).offset(0))
	.call(g => styleAxis(g, 72))
svg.append('g').attr('transform', `translate(${xIter(0)},0)`)
	.call(d3.axisLeft(yLog).tickValues(decadeTicks).tickSize(27).tickPadding(14).tickSizeOuter(0).offset(0)
		.tickFormat((d, i) => decadeLabels[i]))
	.call(g => styleAxis(g, 72))
svg.append('g').attr('transform', `translate(${xIter(25)},0)`)
	.call(d3.axisRight(yLog).tickValues(decadeTicks).tickSize(27).tickFormat('').tickSizeOuter(0).offset(0))
	.call(g => styleAxis(g, 72))

// axis titles
var yTitle = svg.append('text')
	.attr('transform', 'translate(262,975) rotate(-90)')
	.attr('text-anchor', 'middle')
	.style('font-size', '78px')
	.style('letter-spacing', '5px')
yTitle.append('tspan').style('font-style', 'italic').text('J')
yTitle.append('tspan').text('(|')
yTitle.append('tspan').style('font-size', '66px').text('∇')
yTitle.append('tspan').style('font-style', 'italic').text('J')
yTitle.append('tspan').text('|)')

svg.append('text')
	.attr('x', 1210)
	.attr('y', 2010)
	.attr('text-anchor', 'middle')
	.attr('filter', 'url(#soft)')
	.style('font-size', '69px')
	.style('fill', '#111')
	.text('Iterations')

svg.append('text')
	.attr('x', 1811)
	.attr('y', 1795)
	.attr('text-anchor', 'middle')
	.attr('filter', 'url(#soft)')
	.style('font-size', '78px')
	.style('fill', '#111')
	.text('(a)')

// legend
var legend = svg.append('g')
legend.append('rect')
	.attr('x', 538).attr('y', 1693)
	.attr('width', 189).attr('height', 137)
	.attr('rx', 6)
	.attr('fill', '#fff')
	.attr('stroke', '#d8d8d8')
	.attr('stroke-width', 3)
legend.append('line')
	.attr('x1', 551).attr('x2', 640)
	.attr('y1', 1725).attr('y2', 1725)
	.attr('stroke', '#000').attr('stroke-width', 7)
legend.append('line')
	.attr('x1', 555).attr('x2', 638)
	.attr('y1', 1787).attr('y2', 1787)
	.attr('stroke', '#000').attr('stroke-width', 7)
	.attr('stroke-dasharray', '22 10')
legend.append('text')
	.attr('x', 649).attr('y', 1736)
	.style('font-size', '38px')
	.text('J')
var gradKey = legend.append('text')
	.attr('x', 651).attr('y', 1800)
	.style('font-size', '38px')
gradKey.append('tspan').text('|∇')
gradKey.append('tspan').style('font-style', 'italic').text('J')
gradKey.append('tspan').text('|')

/* ---------- panel (b) ---------- */
var mapX = d3.scaleLinear().domain([0, 360]).range([184.5, 2119.6])
var mapY = d3.scaleLinear().domain([90, -90]).range([2126.6, 3092])

// clip to the covered area
svg.select('defs').append('clipPath')
	.attr('id', 'coverage')
	.append('path')
	.attr('d', d3.line().x(d => mapX(d[0])).y(d => mapY(d[1]))(fieldOutline) + 'Z')

// grid padded by one row and column so the bands reach the outline
var gridLons = [0].concat(lons, [360])
var gridLats = [90].concat(lats, [-90])
var gridValues = []
for (var j = 0; j < gridLats.length; j++) {
	var row = fieldRows[Math.max(0, Math.min(fieldRows.length - 1, j - 1))]
	for (var i = 0; i < gridLons.length; i++) {
		gridValues.push(row[Math.max(0, Math.min(row.length - 1, i - 1))])
	}
}

var contours = d3.contours()
	.size([gridLons.length, gridLats.length])
	.thresholds(barLevels.slice(0, -1))
	(gridValues)

var toMap = d3.geoTransform({
	point: function(x, y) {
		this.stream.point(mapX(6 * (x - .5)), mapY(90 - 6 * (y - .5)))
	}
})

var bandColor = d3.scaleThreshold()
	.domain(barLevels)
	.range([underColor].concat(barColors, [overColor]))

svg.append('g')
	.attr('clip-path', 'url(#coverage)')
	.selectAll('path')
	.data(contours)
	.enter().append('path')
	.attr('d', d3.geoPath(toMap))
	.attr('fill', d => bandColor(d.value))

// dotted graticule
var gridB = svg.append('g').attr('stroke', '#000')
gridB.selectAll('line.v')
	.data(lonTicks.slice(1, 6))
	.enter().append('line')
	.attr('x1', d => mapX(d)).attr('x2', d => mapX(d))
	.attr('y1', mapY(90)).attr('y2', mapY(-90))
	.attr('stroke-width', 2)
	.attr('stroke-dasharray', '2.5 3')
gridB.selectAll('line.h')
	.data(latTicks.slice(1, 6))
	.enter().append('line')
	.attr('x1', mapX(0)).attr('x2', mapX(360))
	.attr('y1', d => mapY(d)).attr('y2', d => mapY(d))
	.attr('stroke-width', 2.5)
	.attr('stroke-dasharray', '2.5 2.5')

// wind vectors, tail on the grid point
var speedPx = d3.scaleLinear().domain([0, 5]).range([0, 48])

function arrowPath(len) {
	var s = Math.min(1, len / 20)
	var shaft = 2.2 * s
	var wing = 8 * s
	var path = d3.path()
	path.moveTo(0, -shaft)
	path.lineTo(len - 18 * s, -shaft)
	path.lineTo(len - 20 * s, -wing)
	path.lineTo(len, 0)
	path.lineTo(len - 20 * s, wing)
	path.lineTo(len - 18 * s, shaft)
	path.lineTo(0, shaft)
	path.closePath()
	return path.toString()
}

var windPoints = []
lats.forEach((lat, j) => {
	var listed = new Map(windRows[j].map(d => [d[0], d]))
	for (var c = windFirst[j]; c <= windLast[j]; c++) {
		var w = listed.get(c) || [c, 0, 0]
		windPoints.push({ lon: lons[c], lat: lat, u: w[1], v: w[2] })
	}
})

var vectors = svg.append('g')
vectors.selectAll('path')
	.data(windPoints.filter(d => speedPx(Math.hypot(d.u, d.v)) >= 4))
	.enter().append('path')
	.attr('transform', d => `translate(${mapX(d.lon)},${mapY(d.lat)}) rotate(${-Math.atan2(d.v, d.u) * 180 / Math.PI})`)
	.attr('d', d => arrowPath(speedPx(Math.hypot(d.u, d.v))))
	.attr('fill', '#000')
vectors.selectAll('circle')
	.data(windPoints.filter(d => speedPx(Math.hypot(d.u, d.v)) < 4))
	.enter().append('circle')
	.attr('cx', d => mapX(d.lon))
	.attr('cy', d => mapY(d.lat))
	.attr('r', 2.3)
	.attr('fill', '#000')

// reference vector
svg.append('path')
	.attr('transform', 'translate(1896.5,2175)')
	.attr('d', arrowPath(speedPx(5)))
	.attr('fill', '#000')
svg.append('text')
	.attr('x', 1976).attr('y', 2186)
	.style('font-family', "'Liberation Sans', sans-serif")
	.style('font-size', '46px')
	.text('5')
svg.append('text')
	.attr('x', 2019).attr('y', 2167)
	.attr('text-anchor', 'middle')
	.style('font-family', "'DejaVu Sans', sans-serif")
	.style('font-style', 'italic')
	.style('font-size', '32px')
	.text('m')
svg.append('line')
	.attr('x1', 2003).attr('x2', 2035)
	.attr('y1', 2176.5).attr('y2', 2176.5)
	.attr('stroke', '#000').attr('stroke-width', 2.5)
svg.append('text')
	.attr('x', 2019).attr('y', 2199)
	.attr('text-anchor', 'middle')
	.style('font-family', "'DejaVu Sans', sans-serif")
	.style('font-style', 'italic')
	.style('font-size', '32px')
	.text('s')

// map axes
var lonMinor = d3.range(0, 361, 10).filter(d => d % 60 != 0)
var latMinor = d3.range(-90, 91, 10).filter(d => d % 30 != 0)

svg.append('g').attr('transform', `translate(0,${mapY(-90)})`)
	.call(d3.axisBottom(mapX).tickValues(lonTicks).tickSize(31).tickPadding(9).tickSizeOuter(0).offset(0)
		.tickFormat((d, i) => lonLabels[i]))
	.call(g => styleAxis(g, 60))
svg.append('g').attr('transform', `translate(0,${mapY(-90)})`)
	.call(d3.axisBottom(mapX).tickValues(lonMinor).tickSize(15).tickFormat('').tickSizeOuter(0).offset(0))
	.call(g => styleAxis(g, 60))
svg.append('g').attr('transform', `translate(0,${mapY(90)})`)
	.call(d3.axisTop(mapX).tickValues(lonTicks).tickSize(31).tickFormat('').tickSizeOuter(0).offset(0))
	.call(g => styleAxis(g, 60))
svg.append('g').attr('transform', `translate(0,${mapY(90)})`)
	.call(d3.axisTop(mapX).tickValues(lonMinor).tickSize(15).tickFormat('').tickSizeOuter(0).offset(0))
	.call(g => styleAxis(g, 60))
svg.append('g').attr('transform', `translate(${mapX(0)},0)`)
	.call(d3.axisLeft(mapY).tickValues(latTicks).tickSize(30).tickPadding(14).tickSizeOuter(0).offset(0)
		.tickFormat((d, i) => latLabels[i]))
	.call(g => styleAxis(g, 60))
	.call(g => g.selectAll('text').attr('dy', '.26em'))
svg.append('g').attr('transform', `translate(${mapX(0)},0)`)
	.call(d3.axisLeft(mapY).tickValues(latMinor).tickSize(16).tickFormat('').tickSizeOuter(0).offset(0))
	.call(g => styleAxis(g, 60))
svg.append('g').attr('transform', `translate(${mapX(360)},0)`)
	.call(d3.axisRight(mapY).tickValues(latTicks).tickSize(30).tickFormat('').tickSizeOuter(0).offset(0))
	.call(g => styleAxis(g, 60))
svg.append('g').attr('transform', `translate(${mapX(360)},0)`)
	.call(d3.axisRight(mapY).tickValues(latMinor).tickSize(16).tickFormat('').tickSizeOuter(0).offset(0))
	.call(g => styleAxis(g, 60))

svg.append('text')
	.attr('x', 236)
	.attr('y', 3075)
	.attr('text-anchor', 'middle')
	.attr('filter', 'url(#soft)')
	.style('font-size', '77px')
	.style('fill', '#111')
	.text('(b)')

/* ---------- colour bar ---------- */
var barX = d3.scaleLinear().domain([-150, 150]).range([515, 1785.6])
var barTop = 3209.3
var barBottom = 3273
var barMid = (barTop + barBottom) / 2
var barTip = 65

var bar = svg.append('g')
bar.selectAll('rect')
	.data(barColors)
	.enter().append('rect')
	.attr('x', (d, i) => barX(barLevels[i]))
	.attr('y', barTop)
	.attr('width', (d, i) => barX(barLevels[i + 1]) - barX(barLevels[i]) + .5)
	.attr('height', barBottom - barTop)
	.attr('fill', d => d)
bar.append('path')
	.attr('d', `M${barX(-150)},${barTop}L${barX(-150) - barTip},${barMid}L${barX(-150)},${barBottom}Z`)
	.attr('fill', underColor)
bar.append('path')
	.attr('d', `M${barX(150)},${barTop}L${barX(150) + barTip},${barMid}L${barX(150)},${barBottom}Z`)
	.attr('fill', overColor)
bar.selectAll('line')
	.data(barTicks)
	.enter().append('line')
	.attr('x1', d => barX(d)).attr('x2', d => barX(d))
	.attr('y1', barTop).attr('y2', barBottom)
	.attr('stroke', '#000').attr('stroke-width', 2)
bar.append('path')
	.attr('d', `M${barX(-150)},${barTop}L${barX(150)},${barTop}L${barX(150) + barTip},${barMid}L${barX(150)},${barBottom}L${barX(-150)},${barBottom}L${barX(-150) - barTip},${barMid}Z`)
	.attr('fill', 'none')
	.attr('stroke', '#000')
	.attr('stroke-width', 3)

svg.append('g').attr('transform', `translate(0,${barBottom})`)
	.call(d3.axisBottom(barX).tickValues(barTicks).tickSize(0).tickPadding(11).offset(0)
		.tickFormat(d => d < 0 ? '\u2212' + Math.abs(d) : d))
	.call(g => g.select('path').remove())
	.call(g => styleAxis(g, 55))
</script>
</body>
</html>
